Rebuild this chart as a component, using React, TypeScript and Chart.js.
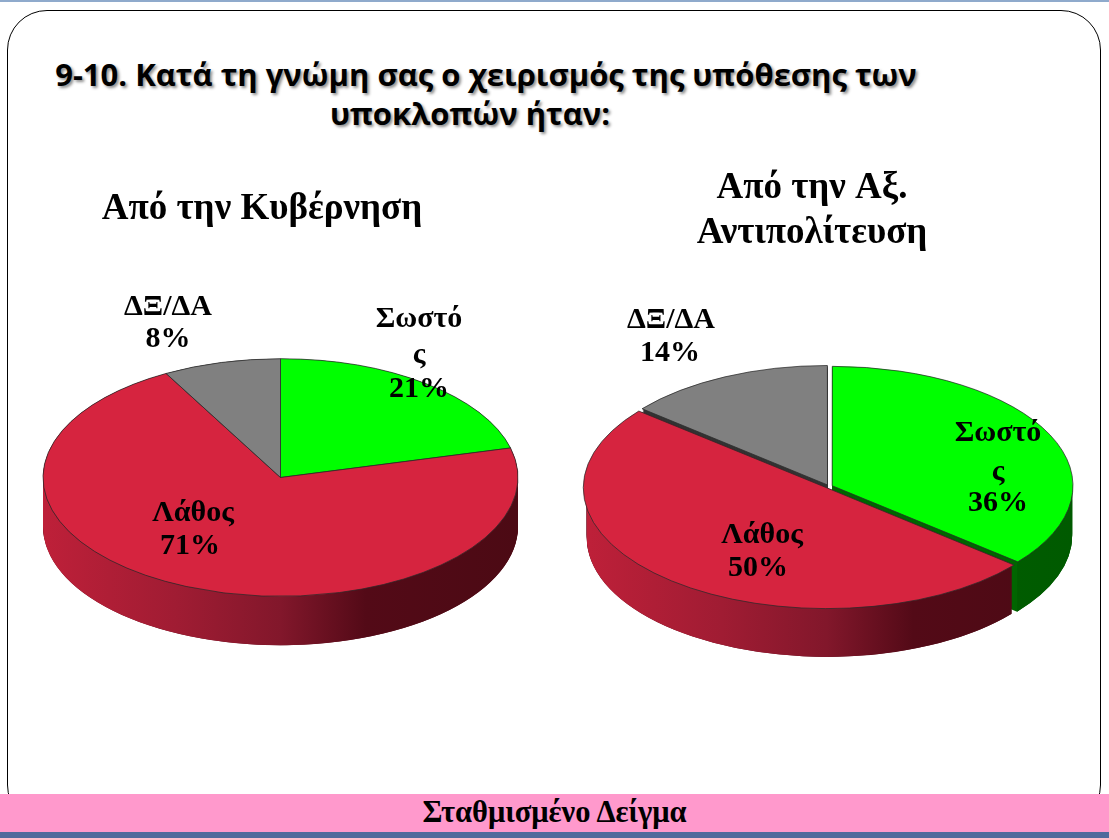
import React, { useEffect, useRef } from "react";
import { Chart, registerables } from "chart.js";

Chart.register(...registerables);

const categories = ["Σωστός", "Λάθος", "ΔΞ/ΔΑ"];
const governmentValues = [21, 71, 8];
const oppositionValues = [36, 50, 14];
const topColors = ["#00FF00", "#D6243F", "#808080"];
const faceColors = ["#006600", "#5A0A18", "#333333"];
const sideStops: [number, string][][] = [
  [[0, "#006A00"], [1, "#005A00"]],
  [[0, "#BE2039"], [0.28, "#A01C33"], [0.5, "#82172B"], [0.68, "#530A17"], [1, "#4C0A14"]],
  [[0, "#555555"], [1, "#333333"]],
];
const mainTitle = ["9-10. Κατά τη γνώμη σας ο χειρισμός της υπόθεσης των", "υποκλοπών ήταν:"];
const footer = "Σταθμισμένο Δείγμα";

const FONT = '"Liberation Serif", "Times New Roman", serif';

function makePie(canvas: HTMLCanvasElement, cfg: any) {
  const { values, cx, cy, radius, k, depth, offset, title, labelPos } = cfg;
  const W = canvas.width;
  const H = canvas.height;
  const half = 100;
  const plugin = {
    id: "pie3d",
    beforeDatasetsDraw(chart: any) {
      const ctx = chart.ctx;
      const arcs = chart.getDatasetMeta(0).data;
      const order = [2, 0, 1];
      ctx.save();
      order.forEach((i) => {
        const a = arcs[i];
        const mid = (a.startAngle + a.endAngle) / 2;
        const ox = Math.cos(mid) * (offset / 4);
        const oy = Math.sin(mid) * (offset / 4) * k;
        const x = a.x + ox;
        const y = a.y + oy;
        const r = a.outerRadius;
        ctx.fillStyle = faceColors[i];
        for (let d = depth; d >= 0; d--) {
          ctx.beginPath();
          ctx.moveTo(x, y + d);
          ctx.ellipse(x, y + d, r, r * k, 0, a.startAngle, a.endAngle);
          ctx.closePath();
          ctx.fill();
        }
        const lo = Math.max(a.startAngle, 0);
        const hi = Math.min(a.endAngle, Math.PI);
        if (hi > lo) {
          const g = ctx.createLinearGradient(x - r, 0, x + r, 0);
          sideStops[i].forEach(([s, c]) => g.addColorStop(s, c));
          ctx.fillStyle = g;
          ctx.beginPath();
          ctx.ellipse(x, y, r, r * k, 0, lo, hi);
          ctx.ellipse(x, y + depth, r, r * k, 0, hi, lo, true);
          ctx.closePath();
          ctx.fill();
        }
      });
      ctx.restore();
      ctx.save();
      ctx.translate(0, cy);
      ctx.scale(1, k);
      ctx.translate(0, -cy);
    },
    afterDatasetsDraw(chart: any) {
      const ctx = chart.ctx;
      ctx.restore();
      ctx.save();
      ctx.fillStyle = "#000";
      ctx.textAlign = "center";
      ctx.textBaseline = "middle";
      ctx.font = `bold 37px ${FONT}`;
      title.forEach((line: any) => ctx.fillText(line.text, line.x, line.y));
      ctx.font = `bold 30px ${FONT}`;
      labelPos.forEach((lines: any[], i: number) => {
        const texts =
          i === 0
            ? [categories[0].slice(0, -1), categories[0].slice(-1), `${values[0]}%`]
            : [categories[i], `${values[i]}%`];
        texts.forEach((t, j) => ctx.fillText(t, lines[j][0], lines[j][1]));
      });
      ctx.restore();
    },
  };
  return new Chart(canvas, {
    type: "pie",
    data: {
      labels: categories,
      datasets: [
        {
          data: values,
          backgroundColor: topColors,
          borderColor: "#2a2a2a",
          borderWidth: 1,
          offset,
          hoverOffset: 0,
          radius,
          clip: false,
        } as any,
      ],
    },
    options: {
      animation: false,
      responsive: false,
      events: [],
      layout: {
        padding: { left: cx - half, right: W - cx - half, top: cy - half, bottom: H - cy - half },
      },
      plugins: { legend: { display: false }, tooltip: { enabled: false }, title: { display: false } },
    },
    plugins: [plugin],
  } as any);
}

export default function App() {
  const left = useRef<HTMLCanvasElement>(null);
  const right = useRef<HTMLCanvasElement>(null);
  useEffect(() => {
    const a = makePie(left.current!, {
      values: governmentValues,
      cx: 280.5,
      cy: 477.5,
      radius: 237.5,
      k: 0.5,
      depth: 49,
      offset: 0,
      title: [{ text: "Από την Κυβέρνηση", x: 262, y: 209 }],
      labelPos: [
        [[419, 319], [419, 355], [419, 389]],
        [[193, 513], [190, 546]],
        [[168, 307], [168, 339]],
      ],
    });
    const b = makePie(right.current!, {
      values: oppositionValues,
      cx: 829,
      cy: 486.5,
      radius: 240,
      k: 0.496,
      depth: 50,
      offset: 14,
      title: [
        { text: "Από την Αξ.", x: 812, y: 188 },
        { text: "Αντιπολίτευση", x: 812, y: 233 },
      ],
      labelPos: [
        [[998, 433], [998, 472], [998, 503]],
        [[762, 535], [758, 568]],
        [[671, 320], [670, 353]],
      ],
    });
    return () => {
      a.destroy();
      b.destroy();
    };
  }, []);
  const canvasStyle: React.CSSProperties = { position: "absolute", left: 0, top: 0 };
  const titleStyle: React.CSSProperties = {
    position: "absolute",
    whiteSpace: "nowrap",
    fontFamily: '"Open Sans", "Noto Sans", sans-serif',
    fontWeight: 700,
    fontSize: 31,
    lineHeight: "38px",
    color: "#000",
    textShadow: "2px 2px 3px rgba(0,0,0,0.45)",
    transform: "translateX(-50%)",
  };
  return (
    <div style={{ position: "absolute", left: 0, top: 0, width: 1109, height: 838, overflow: "hidden", background: "#fff" }}>
      <div style={{ position: "absolute", left: 0, top: 0, width: 1109, height: 2, background: "#8FAACC" }} />
      <div
        style={{
          position: "absolute",
          left: 7,
          top: 10,
          width: 1094,
          height: 815,
          boxSizing: "border-box",
          border: "1.5px solid #000",
          borderRadius: 40,
        }}
      />
      <div style={{ ...titleStyle, left: 486, top: 55 }}>{mainTitle[0]}</div>
      <div style={{ ...titleStyle, left: 470, top: 94 }}>{mainTitle[1]}</div>
      <canvas ref={left} width={1109} height={838} style={canvasStyle} />
      <canvas ref={right} width={1109} height={838} style={canvasStyle} />
      <div
        style={{
          position: "absolute",
          left: 0,
          top: 794,
          width: 1109,
          height: 38,
          background: "#FF99CC",
          textAlign: "center",
          fontFamily: FONT,
          fontWeight: 700,
          fontSize: 30.5,
          lineHeight: "37px",
          color: "#000",
        }}
      >
        {footer}
      </div>
      <div style={{ position: "absolute", left: 0, top: 832, width: 1109, height: 6, background: "#506A9C" }} />
    </div>
  );
}
